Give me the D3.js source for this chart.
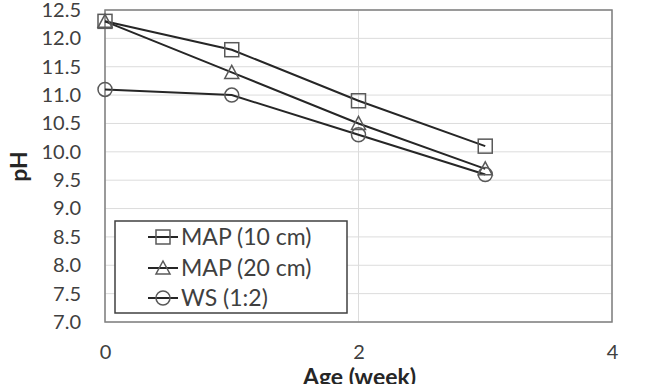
<!DOCTYPE html>
<html><head><meta charset="utf-8">
<script src="https://cdn.jsdelivr.net/npm/d3@7"></script>
<style>body{margin:0;background:#fff}svg{display:block}</style>
</head><body><svg id="c" width="647" height="384"></svg>
<script>
const weeks = [0, 1, 2, 3];
const map10 = [12.3, 11.8, 10.9, 10.1];
const map20 = [12.3, 11.4, 10.5, 9.7];
const ws12 = [11.1, 11.0, 10.3, 9.6];
const seriesNames = ["MAP (10 cm)", "MAP (20 cm)", "WS (1:2)"];
const seriesMarkers = ["square", "triangle", "circle"];
const yTicks = [7.0, 7.5, 8.0, 8.5, 9.0, 9.5, 10.0, 10.5, 11.0, 11.5, 12.0, 12.5];
const xTicks = [0, 2, 4];

const font = "Lato, 'Open Sans', sans-serif";
const svg = d3.select("#c");
const L = 105, R = 612, T = 10, B = 322;
const x = d3.scaleLinear().domain([0, 4]).range([L, R]);
const y = d3.scaleLinear().domain([7, 12.5]).range([B, T]);

// gridlines
svg.append("g").selectAll("line").data(yTicks).join("line")
  .attr("x1", L).attr("x2", R).attr("y1", d => y(d)).attr("y2", d => y(d))
  .attr("stroke", "#dcdcdc").attr("stroke-width", 1);
svg.append("g").selectAll("line").data(xTicks).join("line")
  .attr("y1", T).attr("y2", B).attr("x1", d => x(d)).attr("x2", d => x(d))
  .attr("stroke", "#dcdcdc").attr("stroke-width", 1);

// plot border
svg.append("rect").attr("x", L).attr("y", T).attr("width", R - L).attr("height", B - T)
  .attr("fill", "none").attr("stroke", "#7f7f7f").attr("stroke-width", 1.5);

// axes tick labels
const yAxis = d3.axisLeft(y).tickValues(yTicks).tickFormat(d3.format(".1f")).tickSize(0).tickPadding(24);
const gy = svg.append("g").attr("transform", `translate(${L},0)`).call(yAxis);
gy.select(".domain").remove();
gy.selectAll("text").attr("font-family", font).attr("font-size", 20).attr("fill", "#404040");

const xAxis = d3.axisBottom(x).tickValues(xTicks).tickFormat(d3.format("d")).tickSize(0).tickPadding(23);
const gx = svg.append("g").attr("transform", `translate(0,${B})`).call(xAxis);
gx.select(".domain").remove();
gx.selectAll("text").attr("font-family", font).attr("font-size", 20).attr("fill", "#404040");

// axis titles
svg.append("text").attr("x", x(2) + 1).attr("y", 385).attr("text-anchor", "middle")
  .attr("font-family", font).attr("font-weight", "bold").attr("font-size", 23).attr("fill", "#262626")
  .text("Age (week)");
svg.append("text").attr("transform", `translate(26.5,166.5) rotate(-90)`).attr("text-anchor", "middle")
  .attr("font-family", font).attr("font-weight", "bold").attr("font-size", 23).attr("fill", "#262626")
  .text("pH");

const data = [map10, map20, ws12];
const line = d3.line().x((d, i) => x(weeks[i])).y(d => y(d));

function marker(g, type, cx, cy) {
  const s = "#595959", w = 1.5;
  if (type === "square") {
    g.append("rect").attr("x", cx - 7).attr("y", cy - 7).attr("width", 14).attr("height", 14)
      .attr("fill", "none").attr("stroke", s).attr("stroke-width", w);
  } else if (type === "triangle") {
    g.append("path").attr("d", `M${cx},${cy - 7}L${cx + 7},${cy + 6}L${cx - 7},${cy + 6}Z`)
      .attr("fill", "none").attr("stroke", s).attr("stroke-width", w);
  } else {
    g.append("circle").attr("cx", cx).attr("cy", cy).attr("r", 7)
      .attr("fill", "none").attr("stroke", s).attr("stroke-width", w);
  }
}

data.forEach((vals, k) => {
  svg.append("path").attr("d", line(vals)).attr("fill", "none")
    .attr("stroke", "#262626").attr("stroke-width", 2);
});
data.forEach((vals, k) => {
  const g = svg.append("g");
  vals.forEach((v, i) => marker(g, seriesMarkers[k], x(weeks[i]), y(v)));
});

// legend
const lg = svg.append("g");
lg.append("rect").attr("x", 115).attr("y", 221).attr("width", 232).attr("height", 92)
  .attr("fill", "#fff").attr("stroke", "#404040").attr("stroke-width", 1.5);
const rowY = [237, 268, 298];
seriesNames.forEach((n, k) => {
  lg.append("line").attr("x1", 148).attr("x2", 178).attr("y1", rowY[k]).attr("y2", rowY[k])
    .attr("stroke", "#262626").attr("stroke-width", 2);
  marker(lg, seriesMarkers[k], 163, rowY[k]);
  lg.append("text").attr("x", 181).attr("y", rowY[k]).attr("dy", "0.36em")
    .attr("font-family", font).attr("font-size", 23).attr("fill", "#404040").text(n);
});
</script></body></html>
